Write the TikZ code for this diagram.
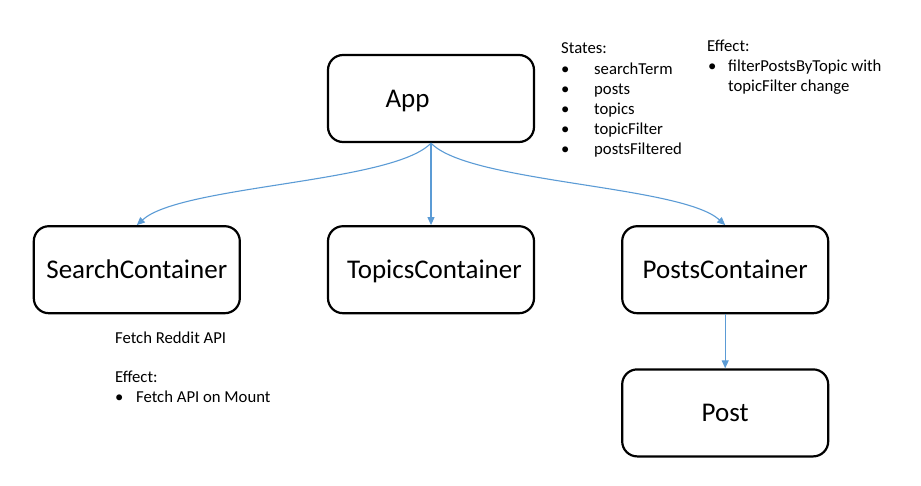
\documentclass[tikz,border=0pt]{standalone}
\usepackage{fontspec}
\setmainfont{Carlito}
\usepackage{tikz}
\usetikzlibrary{arrows.meta,positioning}
\definecolor{linkblue}{RGB}{91,155,213}

\begin{document}
\begin{tikzpicture}[x=1pt,y=-1pt,
		box/.style={draw=black,line width=2.2pt,rounded corners=15pt,minimum width=206pt,minimum height=87pt,inner sep=0pt,text height=17.4pt,text depth=0pt,font=\fontsize{27}{32}\selectfont},
		link/.style={draw=linkblue,line width=1.1pt,-{Triangle[length=8pt,width=7pt]}},
		note/.style={anchor=base west,inner sep=0pt,font=\fontsize{16.7}{20}\selectfont}]

	\useasboundingbox (0,0) rectangle (921,485);

	\node[box] (app) at (431,98.5) {\hbox to 91pt{App\hfil}};
	\node[box] (topics) [below=82pt of app] {\hbox to 168pt{\hfil TopicsContainer}};
	\node[box] (search) [left=86pt of topics] {SearchContainer};
	\node[box] (posts) [right=86pt of topics] {PostsContainer};
	\node[box] (post) [below=54pt of posts] {Post};

	\draw[link] (app.south) .. controls +(-38,40) and +(44,-40) .. (search.north);
	\draw[link] (app.south) -- (topics.north);
	\draw[link] (app.south) .. controls +(38,40) and +(-44,-40) .. (posts.north);
	\draw[link] (posts.south) -- (post.north);

	% states of App
	\node[note] (states) at (561,53) {States:};
	\node[note] (bulletA) at (561,74) {\textbullet};
	\node[note] (searchterm) at (594,74) {searchTerm};
	\node[note] (bulletB) at (561,94) {\textbullet};
	\node[note] (postsstate) at (594,94) {posts};
	\node[note] (bulletC) at (561,114) {\textbullet};
	\node[note] (topicsstate) at (594,114) {topics};
	\node[note] (bulletD) at (561,134) {\textbullet};
	\node[note] (topicfilter) at (594,134) {topicFilter};
	\node[note] (bulletE) at (561,154) {\textbullet};
	\node[note] (postsfiltered) at (594,154) {postsFiltered};

	% effect of App
	\node[note] (appeffect) at (707,51) {Effect:};
	\node[note] (bulletF) at (708,71) {\textbullet};
	\node[note] (filterA) at (728,71) {filterPostsByTopic with};
	\node[note] (filterB) at (728,91) {topicFilter change};

	% notes of SearchContainer
	\node[note] (fetch) at (115,343) {Fetch Reddit API};
	\node[note] (searcheffect) at (115,382) {Effect:};
	\node[note] (bulletG) at (115,402) {\textbullet};
	\node[note] (mount) at (136,402) {Fetch API on Mount};
\end{tikzpicture}
\end{document}
